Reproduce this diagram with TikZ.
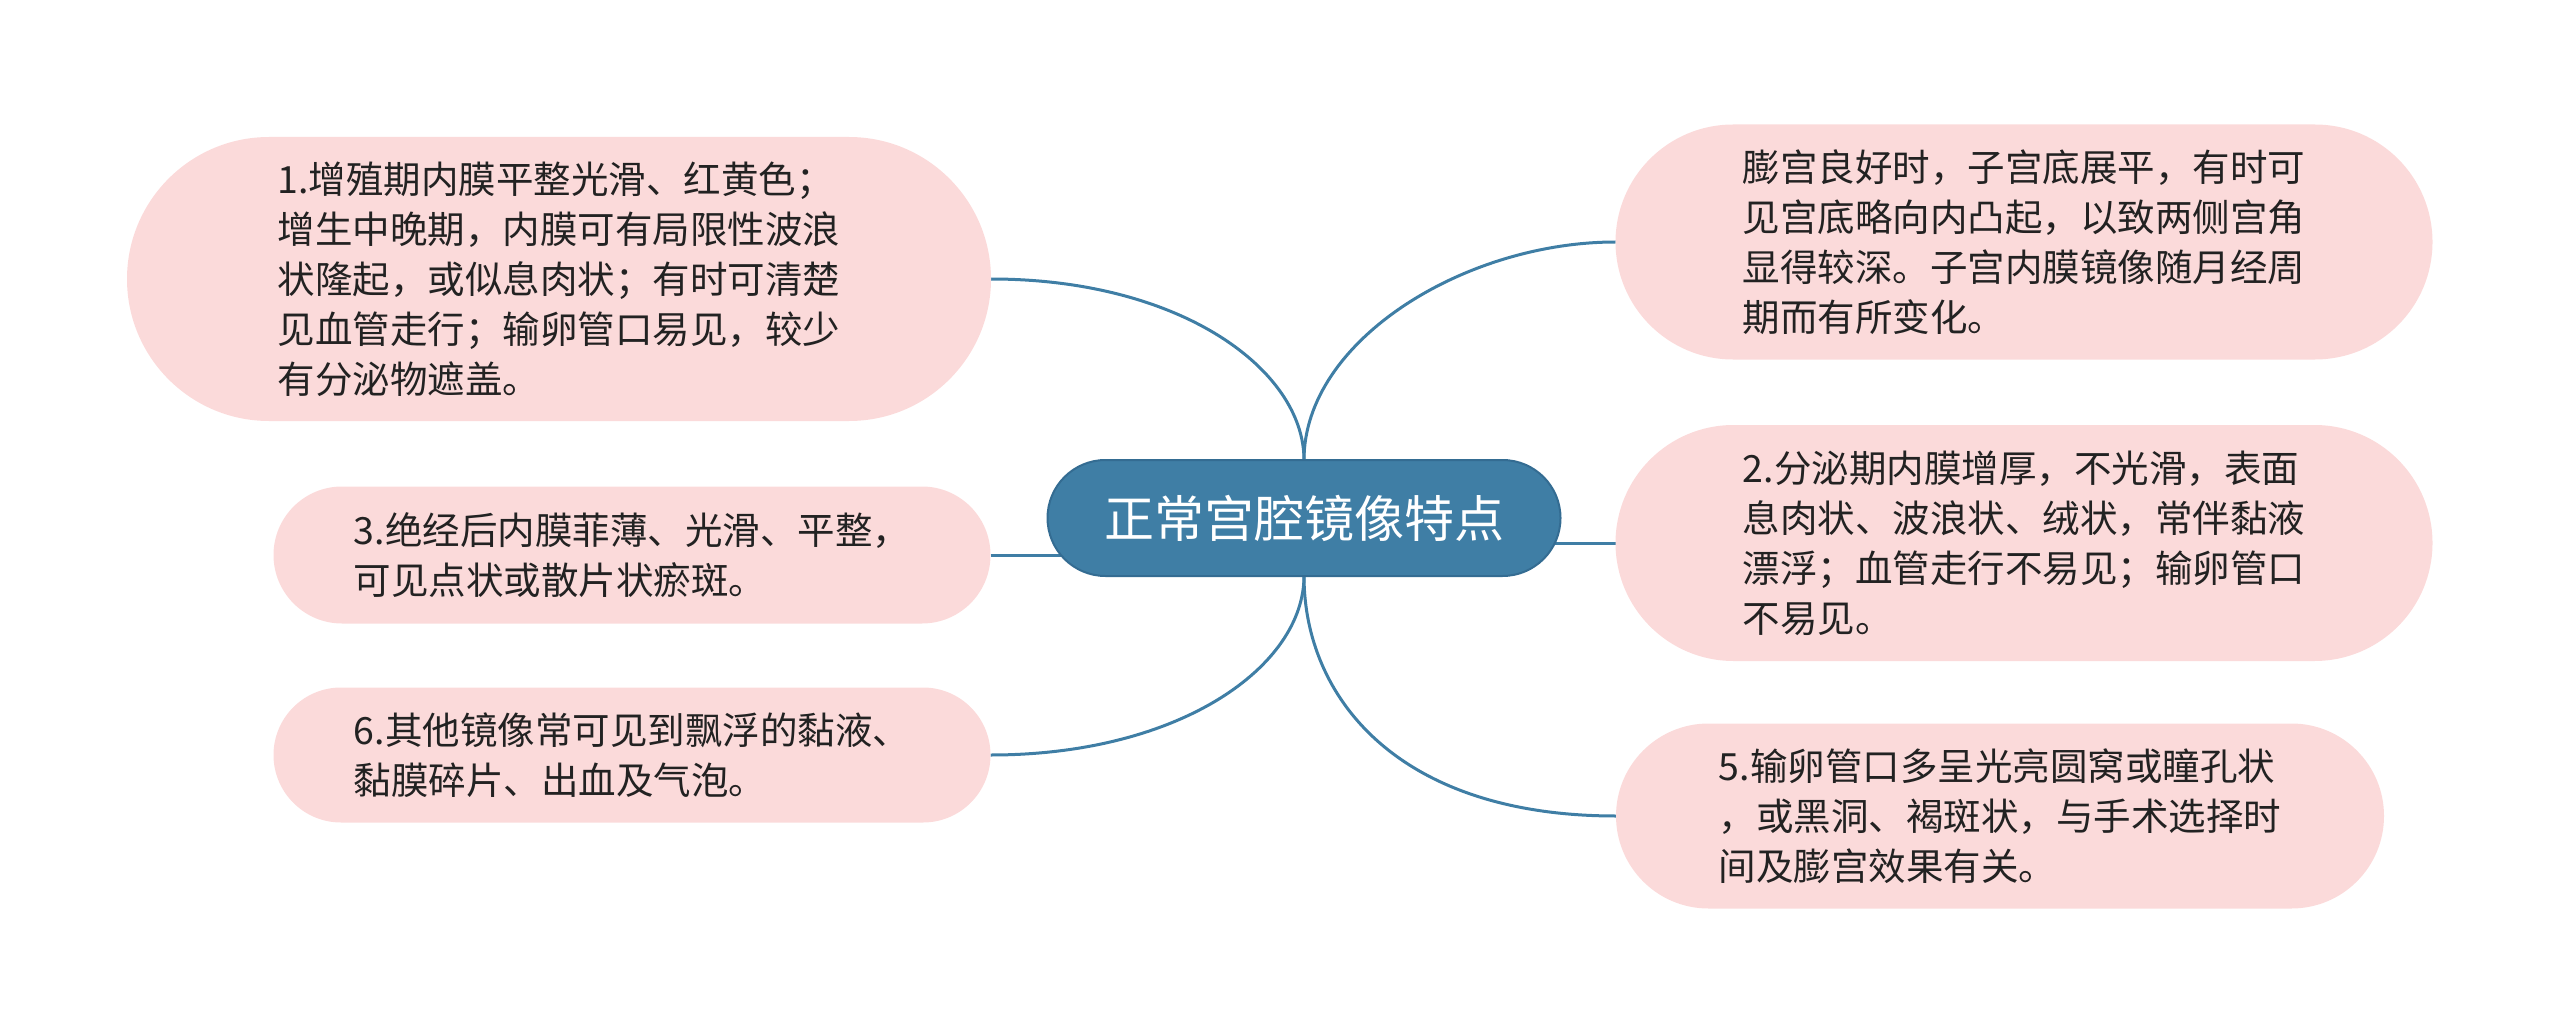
\documentclass[tikz,border=0pt]{standalone}
\usepackage{fontspec}
\setmainfont{Noto Sans CJK SC}
\usetikzlibrary{shapes.misc,backgrounds}
\definecolor{topicblue}{RGB}{63,126,165}
\definecolor{topicline}{RGB}{52,108,146}
\definecolor{leafpink}{RGB}{251,218,218}
\definecolor{leaftext}{RGB}{34,34,34}
\begin{document}
\begin{tikzpicture}[x=1pt,y=-1pt,
    topic/.style={rounded rectangle,fill=topicblue,draw=topicline,line width=2,
        inner sep=0,outer sep=0,text=white,font=\fontsize{50}{60}\selectfont},
    leaf/.style={rounded rectangle,fill=leafpink,inner sep=0,outer sep=0,
        text=leaftext,align=left,font=\fontsize{37.5}{50}\selectfont},
    branch/.style={draw=topicblue,line width=3}]
    \useasboundingbox (0,0) rectangle (2560,1035);
    % central topic
    \node [topic,minimum width=513,minimum height=116] (root) at (1304,518) {正常宫腔镜像特点};
    % left side
    \node [leaf,minimum width=864,minimum height=284] (b1) at (559,279) {1.增殖期内膜平整光滑、红黄色；\\增生中晚期，内膜可有局限性波浪\\状隆起，或似息肉状；有时可清楚\\见血管走行；输卵管口易见，较少\\有分泌物遮盖。};
    \node [leaf,minimum width=717,minimum height=137] (b3) at (632,555) {3.绝经后内膜菲薄、光滑、平整，\\可见点状或散片状瘀斑。};
    \node [leaf,minimum width=717,minimum height=135] (b6) at (632,755) {6.其他镜像常可见到飘浮的黏液、\\黏膜碎片、出血及气泡。};
    % right side
    \node [leaf,minimum width=817,minimum height=235] (r1) at (2024,242) {膨宫良好时，子宫底展平，有时可\\见宫底略向内凸起，以致两侧宫角\\显得较深。子宫内膜镜像随月经周\\期而有所变化。};
    \node [leaf,minimum width=817,minimum height=236] (r2) at (2024,543) {2.分泌期内膜增厚，不光滑，表面\\息肉状、波浪状、绒状，常伴黏液\\漂浮；血管走行不易见；输卵管口\\不易见。};
    \node [leaf,minimum width=768,minimum height=185] (r3) at (2000,816) {5.输卵管口多呈光亮圆窝或瞳孔状\\，或黑洞、褐斑状，与手术选择时\\间及膨宫效果有关。};
    % connectors
    \begin{pgfonlayer}{background}
        \draw [branch] (root.north) .. controls +(0,-90) and +(190,0) .. (b1.east);
        \draw [branch] (b3.east) -- (root.center |- b3.east);
        \draw [branch] (root.south) .. controls +(0,90) and +(190,0) .. (b6.east);
        \draw [branch] (root.north) .. controls +(0,-120) and +(-150,0) .. (r1.west);
        \draw [branch] (r2.west) -- (root.center |- r2.west);
        \draw [branch] (root.south) .. controls +(0,120) and +(-220,0) .. (r3.west);
    \end{pgfonlayer}
\end{tikzpicture}
\end{document}
